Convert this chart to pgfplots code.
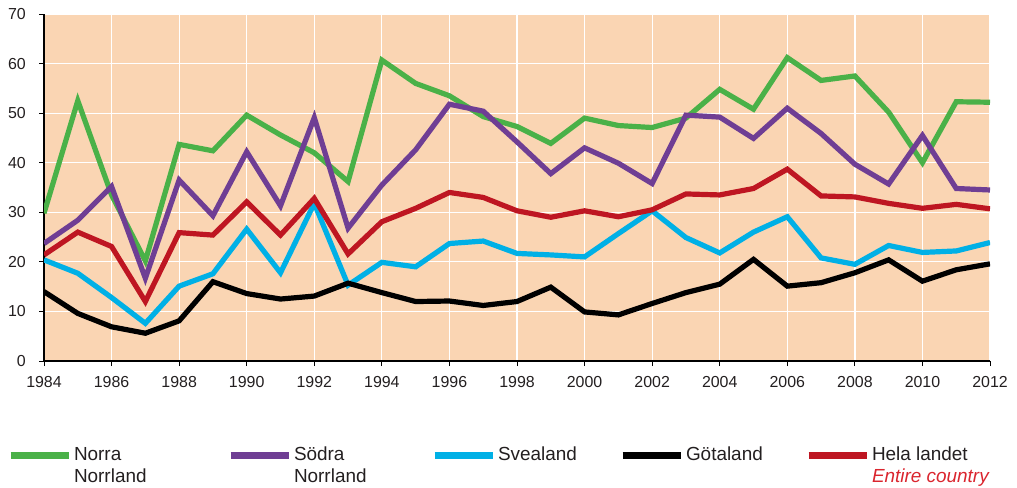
\documentclass[border=0pt]{standalone}
\usepackage{fontspec}
\setmainfont{Liberation Sans}
\usepackage{pgfplots}
\pgfplotsset{compat=1.18}
\definecolor{cgreen}{RGB}{74,177,72}
\definecolor{cpurple}{RGB}{111,62,148}
\definecolor{ccyan}{RGB}{0,176,230}
\definecolor{cblack}{RGB}{0,0,0}
\definecolor{cred}{RGB}{190,22,34}
\definecolor{cbg}{RGB}{250,213,179}
\definecolor{ctext}{RGB}{35,31,32}
\definecolor{cgraybox}{RGB}{140,140,140}
\definecolor{cred2}{RGB}{218,37,46}
\begin{document}
\begin{tikzpicture}
\path[use as bounding box] (-44bp,-127bp) rectangle (973bp,361bp);
\begin{axis}[
  at={(0,0)}, anchor=south west,
  scale only axis, width=946bp, height=347bp,
  xmin=1984, xmax=2012, ymin=0, ymax=70,
  xtick={1984,1986,...,2012}, ytick={0,10,...,70},
  grid=major, major grid style={white, line width=1.2bp},
  axis background/.style={fill=cbg, draw=cgraybox, line width=1bp},
  axis x line*=bottom, axis y line*=left,
  axis line style={black, line width=1.2bp, -},
  tick align=outside, major tick length=5bp,
  tick style={black, line width=1bp},
  /pgf/number format/1000 sep={},
  /pgf/number format/assume math mode=true,
  ticklabel style={font=\fontsize{16}{18}\selectfont, text=ctext, inner sep=0pt},
  yticklabel style={anchor=east, xshift=-13bp},
  xticklabel style={anchor=north, yshift=-10bp},
  legend columns=5,
  legend style={at={(axis description cs:0,0)}, anchor=north west,
    xshift=-37bp, yshift=-86bp, draw=none, fill=none, inner sep=0pt, outer sep=0pt,
    cells={anchor=base west},
    nodes={inner sep=0pt, outer sep=0pt, font=\fontsize{19}{22}\selectfont, text=ctext},
    /tikz/every odd column/.append style={column sep=2bp},
    /tikz/every even column/.append style={column sep=0bp},
    row sep=0pt},
  legend image code/.code={\draw[line width=7bp,#1] (0bp,5.5bp) -- (58bp,5.5bp);},
  every axis plot/.append style={line width=5.2bp, line join=miter, mark=none},
]
\addplot[cgreen] coordinates {
(1984,29.8) (1985,52.5) (1986,33.5) (1987,20.2) (1988,43.7) (1989,42.4) (1990,49.6)
(1991,45.6) (1992,42.0) (1993,36.2) (1994,60.7) (1995,56.0) (1996,53.5) (1997,49.3)
(1998,47.3) (1999,43.9) (2000,49.0) (2001,47.5) (2002,47.1) (2003,49.0) (2004,54.8)
(2005,50.8) (2006,61.2) (2007,56.6) (2008,57.5) (2009,50.2) (2010,40.0) (2011,52.3) (2012,52.2)};
\addlegendentry{\parbox[t]{153bp}{Norra\\Norrland}}
\addplot[cpurple] coordinates {
(1984,23.7) (1985,28.4) (1986,35.2) (1987,16.7) (1988,36.5) (1989,29.3) (1990,42.2)
(1991,31.3) (1992,49.1) (1993,26.8) (1994,35.5) (1995,42.6) (1996,51.8) (1997,50.4)
(1998,44.2) (1999,37.8) (2000,43.0) (2001,39.9) (2002,35.8) (2003,49.6) (2004,49.2)
(2005,44.9) (2006,51.0) (2007,45.9) (2008,39.7) (2009,35.7) (2010,45.5) (2011,34.8) (2012,34.5)};
\addlegendentry{\parbox[t]{137bp}{Södra\\Norrland}}
\addplot[ccyan] coordinates {
(1984,20.4) (1985,17.7) (1986,12.8) (1987,7.6) (1988,15.1) (1989,17.6) (1990,26.6)
(1991,17.8) (1992,31.8) (1993,15.3) (1994,19.9) (1995,19.0) (1996,23.7) (1997,24.2)
(1998,21.7) (1999,21.4) (2000,21.0) (2001,25.7) (2002,30.3) (2003,24.9) (2004,21.8)
(2005,26.0) (2006,29.1) (2007,20.8) (2008,19.5) (2009,23.3) (2010,21.9) (2011,22.2) (2012,23.9)};
\addlegendentry{\parbox[t]{121bp}{Svealand}}
\addplot[cblack] coordinates {
(1984,14.0) (1985,9.6) (1986,6.9) (1987,5.6) (1988,8.1) (1989,16.0) (1990,13.6)
(1991,12.5) (1992,13.1) (1993,15.7) (1994,13.8) (1995,12.0) (1996,12.1) (1997,11.2)
(1998,12.0) (1999,14.9) (2000,9.9) (2001,9.3) (2002,11.6) (2003,13.8) (2004,15.5)
(2005,20.5) (2006,15.1) (2007,15.8) (2008,17.8) (2009,20.4) (2010,16.1) (2011,18.4) (2012,19.6)};
\addlegendentry{\parbox[t]{119bp}{Götaland}}
\addplot[cred] coordinates {
(1984,21.4) (1985,26.0) (1986,23.1) (1987,12.0) (1988,25.9) (1989,25.4) (1990,32.1)
(1991,25.4) (1992,32.8) (1993,21.6) (1994,28.1) (1995,30.8) (1996,34.0) (1997,33.0)
(1998,30.3) (1999,29.0) (2000,30.3) (2001,29.1) (2002,30.5) (2003,33.7) (2004,33.5)
(2005,34.8) (2006,38.7) (2007,33.3) (2008,33.1) (2009,31.8) (2010,30.8) (2011,31.6) (2012,30.7)};
\addlegendentry{\parbox[t]{130bp}{Hela landet\\{\color{cred2}\itshape Entire country}}}
\end{axis}
\end{tikzpicture}
\end{document}
